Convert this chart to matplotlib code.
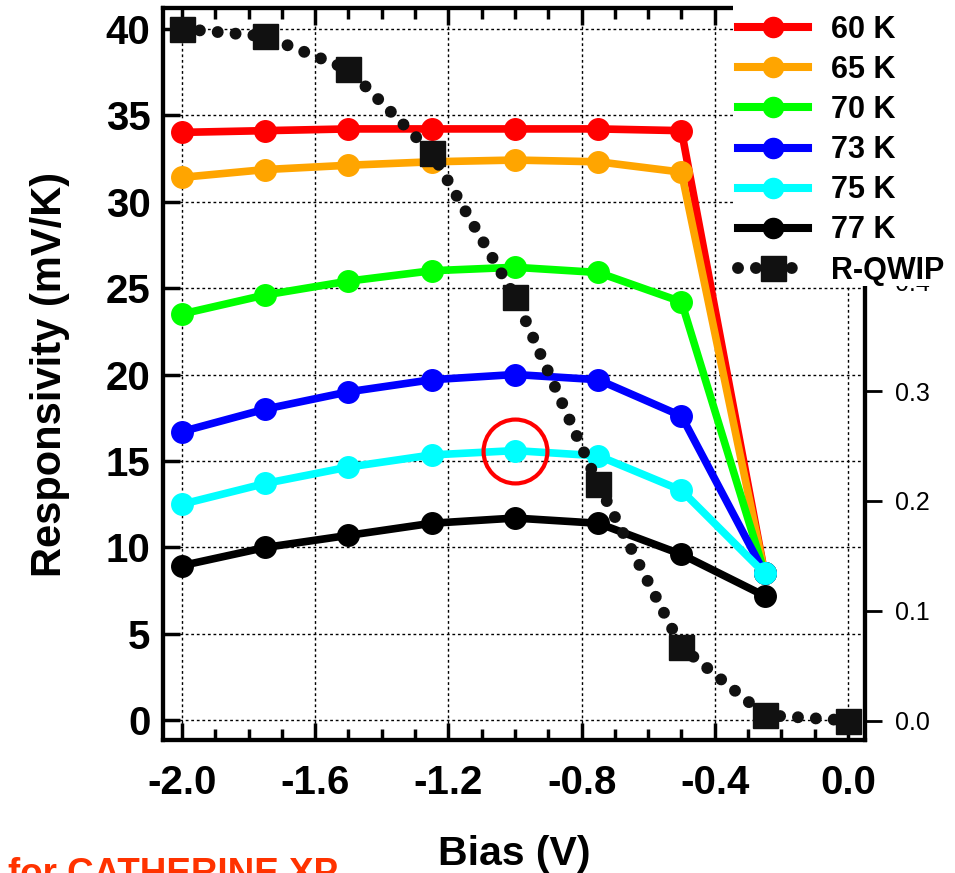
import matplotlib.pyplot as plt
from matplotlib.lines import Line2D
from matplotlib.patches import Rectangle

plt.rcParams['font.family'] = ['Liberation Sans', 'DejaVu Sans']

# data
bias = [-2.0, -1.75, -1.5, -1.25, -1.0, -0.75, -0.5, -0.25]
r60 = [34.0, 34.1, 34.2, 34.2, 34.2, 34.2, 34.1, 8.5]
r65 = [31.4, 31.85, 32.1, 32.3, 32.4, 32.3, 31.7, 8.5]
r70 = [23.5, 24.6, 25.4, 26.0, 26.2, 25.9, 24.2, 8.5]
r73 = [16.7, 18.0, 19.0, 19.7, 20.0, 19.7, 17.6, 8.5]
r75 = [12.5, 13.7, 14.65, 15.35, 15.6, 15.3, 13.3, 8.5]
r77 = [8.95, 10.0, 10.7, 11.4, 11.7, 11.4, 9.6, 7.2]

qwip_bias = [-2.0, -1.75, -1.5, -1.25, -1.0, -0.75, -0.5, -0.25, 0.0]
qwip = [0.63, 0.623, 0.593, 0.517, 0.386, 0.215, 0.067, 0.005, 0.0]

labels = ['60 K', '65 K', '70 K', '73 K', '75 K', '77 K']
colors = ['#ff0000', '#ffa500', '#00ff00', '#0000ff', '#00ffff', '#000000']
series = [r60, r65, r70, r73, r75, r77]

fig = plt.figure(figsize=(9.55, 8.73), dpi=100)
ax = fig.add_axes([0.1707, 0.152, 0.735, 0.839])

for ys, c, lab in zip(series, colors, labels):
    ax.plot(bias, ys, color=c, lw=5.5, marker='o', ms=15.5, mec=c, mfc=c, label=lab, zorder=3)

# highlight circle around the 75 K peak
ax.plot([bias[4]], [r75[4]], marker='o', ms=46, mfc='none', mec='#ff0000', mew=3, zorder=4)

ax.set_xlim(-2.057, 0.051)
ax.set_ylim(-1.15, 41.2)
ax.set_xticks([-2.0, -1.6, -1.2, -0.8, -0.4, 0.0])
ax.set_xticklabels(['-2.0', '-1.6', '-1.2', '-0.8', '-0.4', '0.0'])
ax.set_xticks([x / 10 for x in range(-20, 1)], minor=True)
ax.set_yticks(range(0, 41, 5))
ax.grid(True, which='major', color='black', ls=(0, (2, 2)), lw=1)
ax.tick_params(axis='x', which='both', direction='in', top=True, bottom=True, width=2.5)
ax.tick_params(axis='x', which='major', length=12, pad=17, labelsize=29)
ax.tick_params(axis='x', which='minor', length=8)
ax.tick_params(axis='y', which='major', direction='in', length=12, width=2.5, pad=9, labelsize=29)
for lab in ax.get_xticklabels() + ax.get_yticklabels():
    lab.set_fontweight('bold')
for s in ax.spines.values():
    s.set_linewidth(3)

ax.set_xlabel('Bias (V)', fontsize=29.5, fontweight='bold', labelpad=24)
ax.set_ylabel('Responsivity (mV/K)', fontsize=30, fontweight='bold', labelpad=26)

# R-QWIP on the right axis
ax2 = ax.twinx()
ax2.plot(qwip_bias, qwip, color='#111111', lw=8.6, ls=(0, (0.001, 1.5)),
         dash_capstyle='round', marker='s', ms=18, mec='#111111', mfc='#111111', zorder=3)
ax2.set_ylim(-0.018, 0.649)
ax2.set_yticks([0.0, 0.1, 0.2, 0.3, 0.4])
ax2.set_yticklabels(['0.0', '0.1', '0.2', '0.3', '0.4'])
ax2.tick_params(axis='y', direction='out', length=12, width=2, pad=10, labelsize=18)
for s in ax2.spines.values():
    s.set_linewidth(3)

# white block behind the legend, hiding the top right of the axes
cover = Rectangle((733 / 955, 1 - 286 / 873), 1 - 733 / 955, 286 / 873,
                  transform=fig.transFigure, facecolor='white', edgecolor='none', zorder=5)
fig.add_artist(cover)

handles = [Line2D([], [], color=c, lw=5.8, marker='o', ms=14.5) for c in colors]
handles.append(Line2D([], [], color='#111111', lw=8.6, ls=(0, (0.001, 1.5)),
                      dash_capstyle='round', marker='s', ms=18))
leg = fig.legend(handles, labels + ['R-QWIP'], loc='upper left',
                 bbox_to_anchor=(738 / 955, 1 - 15 / 873),
                 prop={'weight': 'bold', 'size': 22}, frameon=False,
                 handlelength=2.3, handletextpad=0.75, labelspacing=0.33,
                 borderpad=0, borderaxespad=0)
leg.set_zorder(6)

fig.text(8 / 955, -0.013, 'for CATHERINE XP', color='#ff3300', fontsize=26.5,
         fontweight='bold', ha='left', va='baseline')

fig.savefig('out.png', dpi=100)
